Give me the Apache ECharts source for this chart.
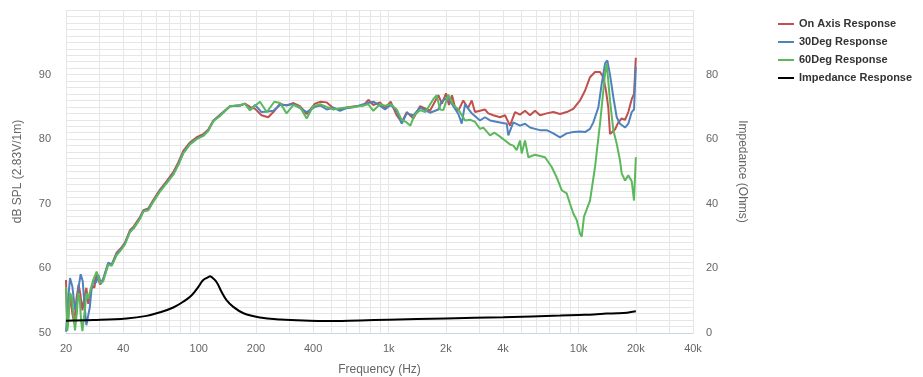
<!DOCTYPE html>
<html>
<head>
<meta charset="utf-8">
<script src="https://cdn.jsdelivr.net/npm/echarts@6/dist/echarts.min.js"></script>
<style>
  html, body { margin: 0; padding: 0; background: #fff; }
  #chart { width: 923px; height: 377px; }
</style>
</head>
<body>
<div id="chart"></div>
<script>
// Frequency-axis grid and label positions (Hz)
const gridHz = [20, 30, 40, 50, 60, 70, 80, 90, 100, 200, 300, 400, 500, 600, 700, 800, 900,
  1000, 2000, 3000, 4000, 5000, 6000, 7000, 8000, 9000, 10000, 20000, 30000, 40000];
const labelHz = [20, 40, 100, 200, 400, 1000, 2000, 4000, 10000, 20000, 40000];

// On-axis SPL
const onAxisHz = [20, 20.3, 20.7, 21.1, 21.6, 22.1, 22.7, 23.3, 23.8, 24.4, 25.0, 25.6, 26.2, 26.8, 27.5, 28.2, 29.0, 30.2, 31.4, 33.4,
  34.8, 36.9, 39.3, 40.9, 43.4, 45.5, 49.1, 51.1, 54.3, 57.6, 62.5, 67.8, 73.4, 78, 82.9, 89.9, 97.5, 105.7, 112.3, 119.3,
  129.4, 146, 165, 175, 186, 198, 214, 232, 247, 268, 290, 315, 341, 370, 409, 438, 472, 511, 554, 600,
  664, 735, 781, 830, 900, 956, 1024, 1102, 1171, 1244, 1348, 1462, 1650, 1825, 1908, 2003, 2076, 2154, 2234, 2326,
  2470, 2616, 2736, 2846, 3024, 3212, 3344, 3554, 3856, 4096, 4351, 4624, 4912, 5220, 5546, 5892, 6260, 6790, 7356, 7976,
  8652, 9374, 10166, 10800, 11478, 12196, 12958, 13488, 13934, 14328, 14626, 14930, 15540, 16170, 16856, 17546, 18258, 19030, 19566, 20000];
const onAxisDb = [58.2, 51.0, 53.5, 55.8, 53.0, 51.5, 55.3, 57.5, 56.0, 53.5, 55.5, 57.0, 54.5, 56.0, 57.3, 57.0, 59.2, 57.5, 58.4, 60.8,
  60.6, 62.4, 63.3, 64.0, 65.9, 66.5, 68.0, 69.0, 69.3, 70.6, 72.2, 73.5, 74.9, 76.4, 78.2, 79.5, 80.3, 80.8, 81.5, 82.9,
  83.8, 85.1, 85.2, 85.5, 85.0, 84.7, 83.7, 83.4, 84.2, 85.5, 85.2, 85.6, 85.1, 83.9, 85.5, 85.8, 85.7, 84.8, 84.6, 84.9,
  85.1, 85.2, 86.1, 85.3, 85.7, 84.8, 85.8, 83.7, 82.6, 84.2, 83.2, 85.1, 84.4, 86.8, 85.5, 87.1, 85.3, 86.8, 84.9, 84.4,
  86.0, 84.8, 86.0, 84.2, 84.4, 84.6, 84.0, 83.7, 83.4, 83.7, 82.1, 84.2, 83.8, 84.4, 83.7, 84.4, 83.7, 84.0, 84.2, 83.9,
  84.2, 84.7, 86.0, 87.5, 89.6, 90.4, 90.4, 89.6, 87.5, 84.9, 80.8, 80.6, 81.5, 82.6, 83.2, 83.0, 84.2, 86.2, 87.0, 92.6];

// 30 degree off-axis SPL
const deg30Hz = [20, 20.5, 21.0, 21.6, 22.3, 22.8, 23.4, 23.9, 24.5, 25.0, 25.6, 26.1, 26.7, 27.3, 28.0, 28.8, 29.6, 30.6, 31.4, 33.4,
  34.8, 36.9, 39.3, 40.9, 43.4, 45.5, 49.1, 51.1, 54.3, 57.6, 62.5, 67.8, 73.4, 78, 82.9, 89.9, 97.5, 105.7, 112.3, 119.3,
  129.4, 146, 165, 175, 186, 198, 214, 232, 247, 268, 290, 315, 341, 370, 409, 438, 472, 511, 554, 600,
  664, 735, 781, 830, 900, 956, 1024, 1102, 1171, 1244, 1348, 1462, 1650, 1825, 1908, 2059, 2154, 2326, 2424, 2522,
  2736, 3024, 3212, 3416, 3856, 4182, 4262, 4530, 4912, 5220, 5546, 5892, 6260, 6790, 7356, 7976, 8652, 9374, 10166, 10800,
  11478, 11948, 12694, 13228, 13768, 14156, 14626, 15226, 15866, 16512, 17546, 18258, 19030, 19566, 20000];
const deg30Db = [50.2, 55.0, 58.5, 57.2, 53.6, 54.5, 57.5, 59.1, 58.0, 54.5, 51.2, 51.0, 54.0, 57.0, 58.2, 57.8, 59.0, 57.6, 58.3, 60.9,
  60.5, 62.2, 63.1, 63.9, 65.7, 66.3, 67.8, 68.9, 69.1, 70.4, 72.0, 73.3, 74.6, 76.1, 77.9, 79.3, 80.1, 80.6, 81.4, 82.8,
  83.7, 85.1, 85.2, 85.5, 84.5, 85.3, 84.2, 84.3, 84.4, 85.3, 85.3, 85.4, 84.8, 84.2, 85.0, 85.2, 84.6, 84.9, 84.4, 84.8,
  85.0, 85.4, 85.6, 85.8, 85.2, 84.6, 85.3, 84.4, 82.4, 84.0, 83.7, 84.9, 84.1, 84.6, 85.9, 86.5, 85.4, 83.9, 82.4, 85.4,
  84.0, 82.9, 83.4, 82.9, 82.6, 82.4, 80.6, 82.6, 82.1, 82.4, 81.8, 81.6, 81.4, 81.4, 80.9, 80.3, 80.9, 81.1, 81.2, 81.1,
  81.6, 82.6, 84.9, 88.6, 91.7, 92.2, 90.0, 86.5, 83.4, 82.4, 81.8, 82.4, 84.2, 84.6, 91.2];

// 60 degree off-axis SPL
const deg60Hz = [20, 20.3, 20.6, 21.0, 21.5, 22.0, 22.3, 22.8, 23.2, 23.6, 24.0, 24.4, 25.0, 25.7, 26.2, 26.8, 27.8, 29.0, 30.2, 31.4,
  33.4, 34.8, 36.9, 39.3, 40.9, 43.4, 45.5, 49.1, 51.1, 54.3, 57.6, 62.5, 67.8, 73.4, 78, 82.9, 89.9, 97.5, 105.7, 112.3,
  119.3, 129.4, 146, 165, 175, 186, 210, 228, 250, 268, 290, 315, 341, 370, 400, 438, 472, 511, 554, 600,
  664, 735, 781, 830, 900, 956, 1024, 1102, 1171, 1244, 1300, 1370, 1462, 1560, 1717, 1790, 1863, 1940, 2059, 2102,
  2190, 2326, 2522, 2690, 2846, 3024, 3148, 3416, 3606, 3856, 4096, 4351, 4530, 4720, 4912, 5014, 5220, 5433, 5892, 6650,
  7213, 7663, 8144, 8652, 9006, 9374, 9768, 10166, 10378, 10670, 11478, 12196, 12958, 13768, 14054, 14626, 15226, 15866, 16512, 16856,
  17546, 18258, 18700, 19030, 19566, 20000];
const deg60Db = [57.1, 50.3, 52.0, 56.2, 55.5, 52.0, 50.4, 53.0, 56.2, 55.5, 52.0, 50.3, 53.0, 56.2, 55.3, 56.5, 58.2, 59.5, 57.7, 58.0,
  60.6, 60.4, 62.0, 63.0, 63.7, 65.6, 66.2, 67.7, 68.8, 69.0, 70.3, 71.9, 73.2, 74.5, 76.0, 77.8, 79.2, 80.0, 80.5, 81.3,
  82.8, 83.6, 85.1, 85.3, 85.5, 84.5, 85.8, 84.2, 85.8, 85.6, 84.0, 85.3, 85.0, 83.2, 85.1, 85.4, 85.0, 84.6, 84.8, 84.9,
  85.0, 85.2, 85.4, 84.4, 85.4, 85.2, 85.4, 84.6, 83.0, 82.6, 82.1, 83.8, 84.5, 84.2, 86.2, 86.8, 84.6, 84.5, 86.9, 87.0,
  85.3, 84.6, 82.9, 83.0, 82.7, 81.6, 81.8, 80.6, 81.0, 80.4, 79.8, 79.2, 79.0, 78.3, 79.8, 77.8, 79.8, 77.2, 77.6, 77.2,
  75.7, 74.1, 72.1, 71.6, 70.0, 68.5, 67.5, 65.4, 64.9, 68.0, 70.5, 75.7, 82.4, 90.1, 91.7, 86.0, 81.4, 79.3, 76.7, 74.7,
  73.6, 74.4, 74.2, 73.5, 70.5, 77.2];

// Impedance (ohms)
const impedanceHz = [20, 27.8, 41.7, 53.1, 62.5, 73.4, 82.9, 91.8, 99.5, 105.6, 112.2, 114.5, 116.9, 124.0, 131.7, 140.0, 152, 172, 210, 268,
  384, 470, 707, 1000, 2000, 4000, 8000, 10000, 12000, 14000, 16000, 18000, 20000];
const impedanceOhm = [3.8, 4.0, 4.5, 5.3, 6.4, 7.9, 9.7, 11.7, 14.3, 16.4, 17.3, 17.6, 17.3, 15.8, 12.8, 10.2, 8.1, 6.1, 4.8, 4.2,
  3.8, 3.7, 3.9, 4.1, 4.5, 4.9, 5.4, 5.6, 5.7, 6.0, 6.1, 6.3, 6.7];

const seriesNames = ['On Axis Response', '30Deg Response', '60Deg Response', 'Impedance Response'];
const seriesColors = ['#c0504d', '#4f81bd', '#5cb85c', '#000000'];

function pairs(xs, ys) { return xs.map((x, i) => [x, ys[i]]); }

const gridColor = '#e6e6e6';
const fontFamily = 'Liberation Sans, Arial, sans-serif';
const labelStyle = { color: '#666', fontSize: 11, fontFamily: fontFamily };
const nameStyle = { color: '#666', fontSize: 12, fontFamily: fontFamily };

const chart = echarts.init(document.getElementById('chart'), null, { renderer: 'canvas' });
chart.setOption({
  animation: false,
  backgroundColor: '#fff',
  grid: { left: 66, right: 230, top: 10, bottom: 44, containLabel: false, outerBoundsMode: 'none' },
  legend: {
    orient: 'vertical', left: 773, top: 13,
    itemWidth: 16, itemHeight: 2, itemGap: 6,
    icon: 'rect',
    data: seriesNames.map((n, i) => ({ name: n, itemStyle: { color: seriesColors[i] } })),
    textStyle: { color: '#333', fontSize: 11, fontWeight: 'bold', fontFamily: fontFamily, lineHeight: 12 }
  },
  xAxis: {
    type: 'log', logBase: 10, min: 20, max: 40000,
    name: 'Frequency (Hz)', nameLocation: 'middle', nameGap: 31, nameTextStyle: nameStyle,
    axisLine: { show: true, lineStyle: { color: '#ccd6eb', width: 1 } },
    axisTick: { show: false, customValues: gridHz },
    splitLine: { show: true, lineStyle: { color: gridColor, width: 1 } },
    minorSplitLine: { show: false },
    axisLabel: Object.assign({
      customValues: labelHz, margin: 10, showMinLabel: true, showMaxLabel: true,
      formatter: v => v >= 1000 ? (v / 1000) + 'k' : String(v)
    }, labelStyle)
  },
  yAxis: [{
    type: 'value', min: 50, max: 100, interval: 10,
    name: 'dB SPL (2.83V/1m)', nameLocation: 'middle', nameGap: 42, nameRotate: 90, nameTextStyle: nameStyle,
    axisLine: { show: false }, axisTick: { show: false },
    splitLine: { show: true, lineStyle: { color: gridColor, width: 1 } },
    minorTick: { show: false, splitNumber: 10 },
    minorSplitLine: { show: true, lineStyle: { color: gridColor, width: 1 } },
    axisLabel: Object.assign({ margin: 15, showMaxLabel: false }, labelStyle)
  }, {
    type: 'value', min: 0, max: 100, interval: 20, position: 'right',
    name: 'Impedance (Ohms)', nameLocation: 'middle', nameGap: 43, nameRotate: -90, nameTextStyle: nameStyle,
    axisLine: { show: false }, axisTick: { show: false },
    splitLine: { show: false },
    axisLabel: Object.assign({ margin: 13, showMaxLabel: false }, labelStyle)
  }],
  series: [
    { name: seriesNames[0], type: 'line', yAxisIndex: 0, data: pairs(onAxisHz, onAxisDb) },
    { name: seriesNames[1], type: 'line', yAxisIndex: 0, data: pairs(deg30Hz, deg30Db) },
    { name: seriesNames[2], type: 'line', yAxisIndex: 0, data: pairs(deg60Hz, deg60Db) },
    { name: seriesNames[3], type: 'line', yAxisIndex: 1, smooth: 0.4, data: pairs(impedanceHz, impedanceOhm) }
  ].map((s, i) => Object.assign(s, {
    symbol: 'none', showSymbol: false,
    lineStyle: { color: seriesColors[i], width: 2 },
    itemStyle: { color: seriesColors[i] }
  }))
});
</script>
</body>
</html>
